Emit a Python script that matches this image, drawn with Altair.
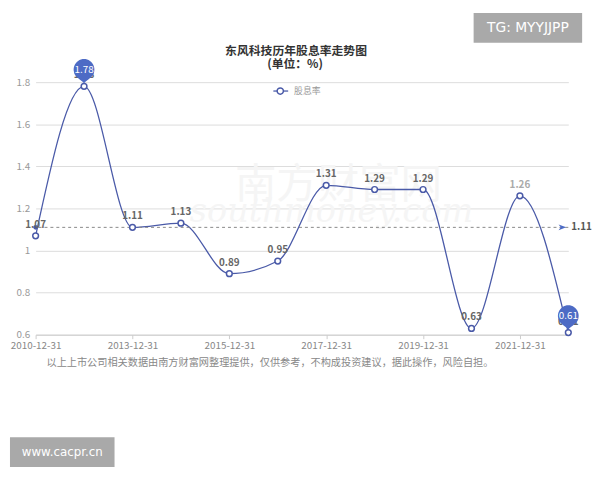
import altair as alt
import pandas as pd

# ---- data ----
years = ["2010-12-31", "2012-12-31", "2013-12-31", "2014-12-31", "2015-12-31", "2016-12-31",
         "2017-12-31", "2018-12-31", "2019-12-31", "2020-12-31", "2021-12-31", "2022-12-31"]
values = [1.07, 1.78, 1.11, 1.13, 0.89, 0.95, 1.31, 1.29, 1.29, 0.63, 1.26, 0.61]
axis_years = ["2010-12-31", "2013-12-31", "2015-12-31", "2017-12-31", "2019-12-31", "2021-12-31"]
y_ticks = [0.6, 0.8, 1.0, 1.2, 1.4, 1.6, 1.8]

title_lines = ["东风科技历年股息率走势图", "(单位：%)"]
series_name = "股息率"
footer_text = "以上上市公司相关数据由南方财富网整理提供，仅供参考，不构成投资建议，据此操作，风险自担。"
tag_text = "TG: MYYJJPP"
site_text = "www.cacpr.cn"
wm_cn = "南方财富网"
wm_en = "southmoney.com"

df = pd.DataFrame({"year": years, "value": values})

LINE = "#4a5aa8"
PIN = "#4d6bc5"
FONT = "Noto Sans CJK SC"

PIN_PATH = "M0,-0.18 C-0.2,-0.4 -0.6,-0.6 -0.6,-0.85 A0.62,0.62 0 1 1 0.6,-0.85 C0.6,-0.6 0.2,-0.4 0,-0.18 Z"
ARROW_PATH = "M-1,-0.75 L1,0 L-1,0.75 L-0.45,0 Z"

yscale = alt.Scale(domain=[0.6, 1.8], nice=False, zero=False)
xscale = alt.Scale(type="point", padding=0, domain=years)

xaxis = alt.Axis(values=axis_years, labelAngle=0, title=None, grid=False,
                 domainColor="#ccc", tickColor="#ccc", tickSize=4,
                 labelColor="#888", labelFontSize=10, labelPadding=2,
                 labelOverlap=False, labelFont=FONT)
yaxis = alt.Axis(values=y_ticks, format="~g", title=None, domain=False, ticks=False,
                 gridColor="#dcdcdc", labelColor="#999", labelFontSize=10,
                 labelPadding=6, labelFont=FONT)

xenc = alt.X("year:N", sort=years, scale=xscale, axis=xaxis)
yenc = alt.Y("value:Q", scale=yscale, axis=yaxis)
mean_y = alt.Y("mean_v:Q", scale=yscale, axis=yaxis)


def deco(text):
    return alt.Chart(pd.DataFrame({"t": [text]}))


# watermark (very faint)
wm1 = deco(wm_cn).mark_text(font=FONT, fontSize=42, color="#f5f5f5", align="center",
                            baseline="middle").encode(x=alt.value(307), y=alt.value(104), text="t:N")
wm2 = deco(wm_en).mark_text(font="DejaVu Serif", fontSize=34, fontStyle="italic", color="#f5f5f5",
                            align="center", baseline="middle").encode(x=alt.value(300), y=alt.value(132), text="t:N")

line = alt.Chart(df).mark_line(interpolate="monotone", color=LINE, strokeWidth=1.3).encode(
    x=xenc, y=yenc)

# mean line
mean_base = alt.Chart(df).transform_aggregate(mean_v="mean(value)")
mean_rule = mean_base.mark_rule(strokeDash=[3, 3], color="#888", strokeWidth=1).encode(y=mean_y)
mean_dot = mean_base.mark_point(filled=True, size=22, color=LINE, opacity=1).encode(
    x=alt.value(0), y=mean_y)
mean_arrow = mean_base.mark_point(shape=ARROW_PATH, filled=True, size=60, color=PIN, opacity=1).encode(
    x=alt.value(534), y=mean_y)
mean_label = mean_base.mark_text(align="left", baseline="middle", fontSize=10, fontWeight="bold",
                                 color="#555", font=FONT).encode(
    x=alt.value(543), y=mean_y, text=alt.Text("mean_v:Q", format=".2f"))

pts = alt.Chart(df).mark_point(shape="circle", filled=True, fill="white", stroke=LINE,
                               strokeWidth=1.5, size=34, opacity=1).encode(x=xenc, y=yenc)

labels = alt.Chart(df).mark_text(dy=-11, fontSize=10, fontWeight="bold", font=FONT).encode(
    x=xenc, y=yenc, text=alt.Text("value:Q", format=".2f"),
    color=alt.condition("datum.year == '2021-12-31'", alt.value("#aaa"), alt.value("#666")))

pin_base = alt.Chart(df).transform_joinaggregate(mx="max(value)", mn="min(value)").transform_filter(
    "datum.value == datum.mx || datum.value == datum.mn")
pins = pin_base.mark_point(shape=PIN_PATH, size=1156, filled=True, color=PIN, opacity=1).encode(
    x=xenc, y=yenc)
pin_text = pin_base.mark_text(dy=-17, baseline="middle", color="white", fontSize=10, font=FONT).encode(
    x=xenc, y=yenc, text=alt.Text("value:Q", format=".2f"))

# title
t1 = deco(title_lines[0]).mark_text(font=FONT, fontSize=12, fontWeight="bold", color="#333",
                                    align="center", baseline="middle").encode(
    x=alt.value(264), y=alt.value(-32), text="t:N")
t2 = deco(title_lines[1]).mark_text(font=FONT, fontSize=12, fontWeight="bold", color="#333",
                                    align="center", baseline="middle").encode(
    x=alt.value(263), y=alt.value(-18), text="t:N")

# legend
leg_line = deco(series_name).mark_rule(color=LINE, strokeWidth=1.3).encode(
    x=alt.value(241), x2=alt.value(256), y=alt.value(9))
leg_pt = deco(series_name).mark_point(shape="circle", filled=True, fill="white", stroke=LINE,
                                      strokeWidth=1.5, size=40, opacity=1).encode(
    x=alt.value(248), y=alt.value(9))
leg_txt = deco(series_name).mark_text(font=FONT, fontSize=9, color="#999", align="left",
                                      baseline="middle").encode(
    x=alt.value(262), y=alt.value(9), text="t:N")

# footer
foot = deco(footer_text).mark_text(font=FONT, fontSize=10.3, color="#888", align="left",
                                   baseline="middle").encode(
    x=alt.value(11), y=alt.value(285), text="t:N")

# tag boxes
tag_box = deco(tag_text).mark_rect(color="#a9a9a9").encode(
    x=alt.value(444), x2=alt.value(554), y=alt.value(-70), y2=alt.value(-40))
tag_txt = deco(tag_text).mark_text(font="DejaVu Sans", fontSize=14, color="white", align="center",
                                   baseline="middle").encode(
    x=alt.value(499), y=alt.value(-55), text="t:N")
site_box = deco(site_text).mark_rect(color="#a9a9a9").encode(
    x=alt.value(-26), x2=alt.value(80), y=alt.value(360), y2=alt.value(390))
site_txt = deco(site_text).mark_text(font="DejaVu Sans", fontSize=12, color="white", align="center",
                                     baseline="middle").encode(
    x=alt.value(27), y=alt.value(375), text="t:N")

chart = alt.layer(
    wm1, wm2, line, mean_rule, mean_dot, mean_arrow, mean_label, pts, labels, pins, pin_text,
    t1, t2, leg_line, leg_pt, leg_txt, foot, tag_box, tag_txt, site_box, site_txt
).properties(
    width=540, height=256,
    background="white",
    autosize=alt.AutoSizeParams(type="none"),
    padding={"left": 28, "top": 72, "right": 24, "bottom": 136},
).configure_view(stroke=None)

chart.save("out.html", embed_options={"renderer": "svg", "actions": False})
